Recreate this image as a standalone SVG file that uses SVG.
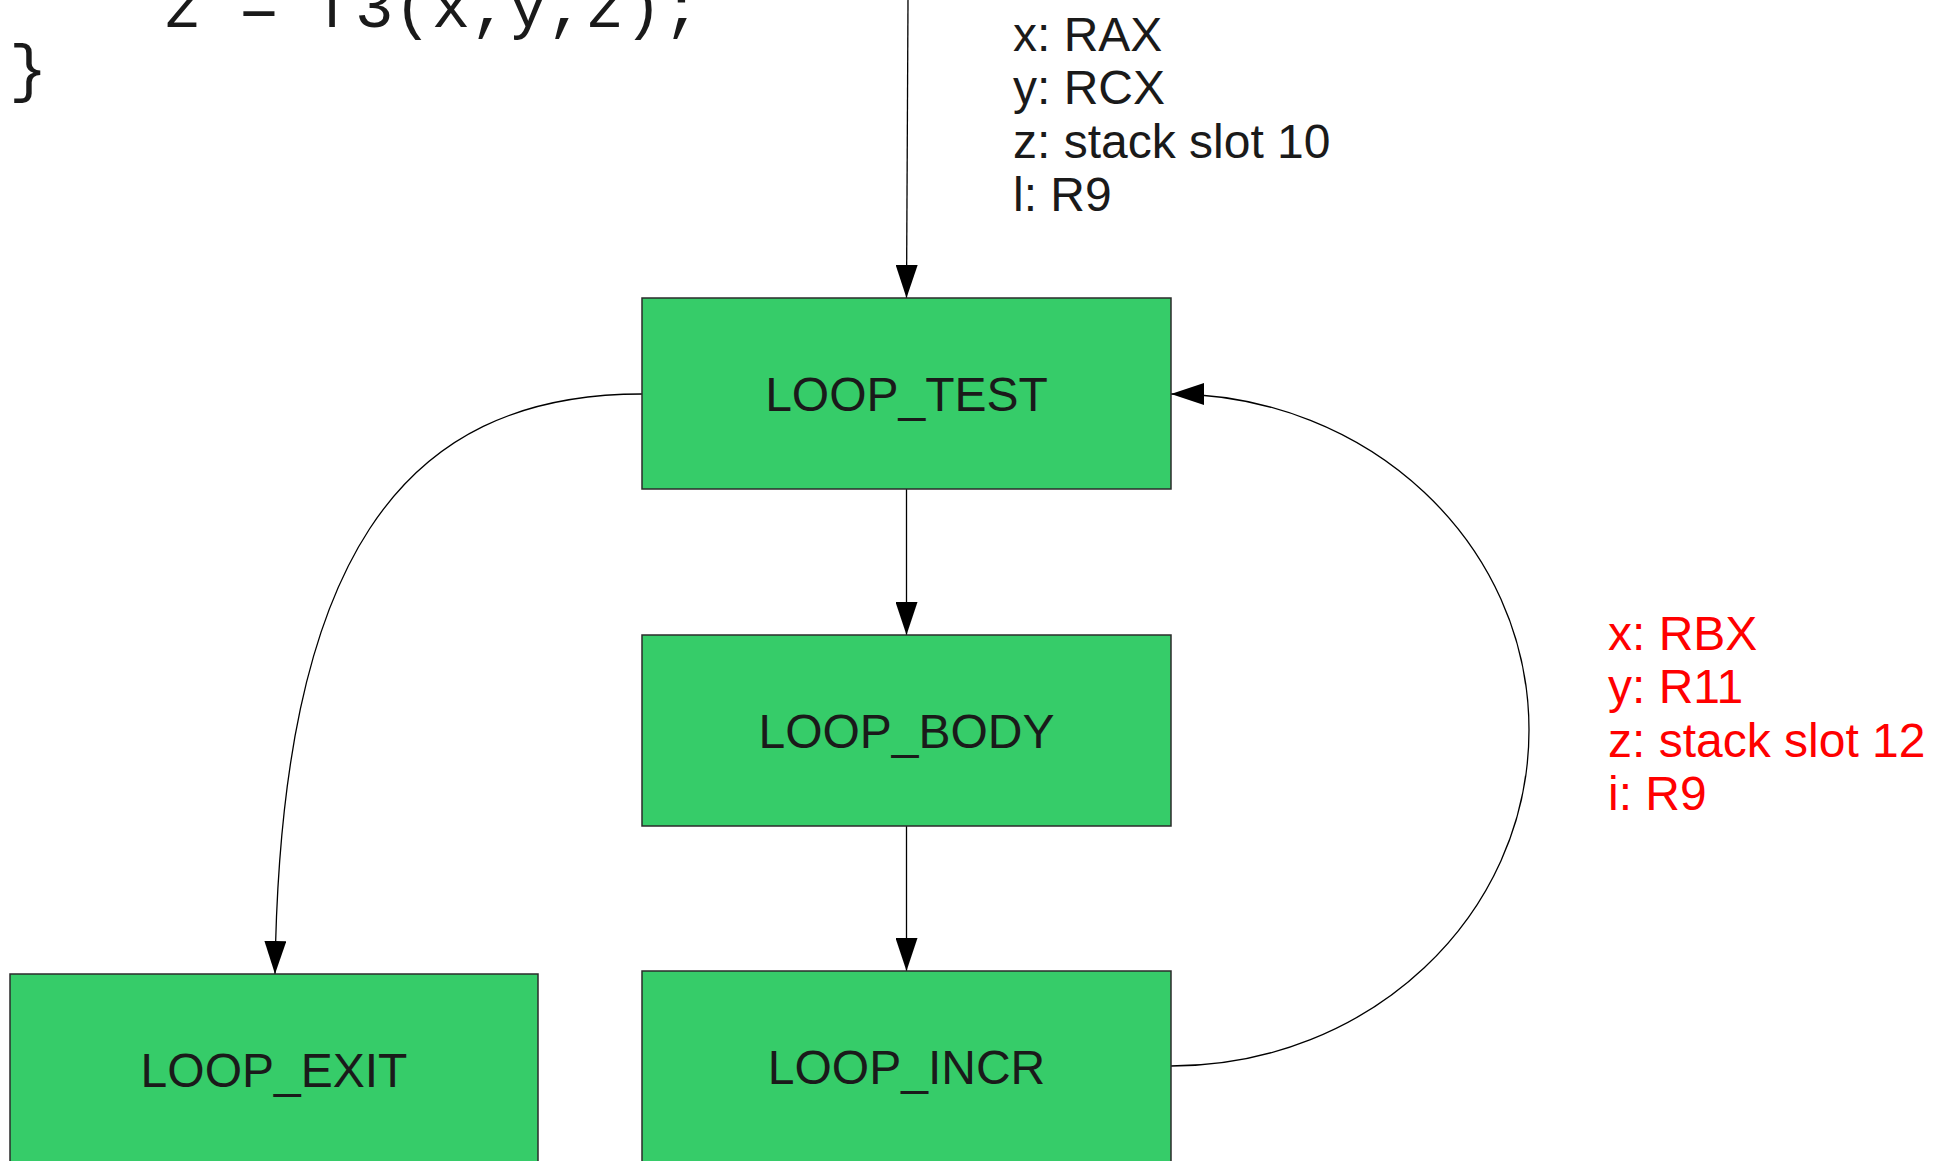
<svg xmlns="http://www.w3.org/2000/svg" width="1948" height="1161" viewBox="0 0 1948 1161">
  <style>
    .node rect { fill: #36cc69; stroke: #2b2b2b; stroke-width: 1.5; }
    .node text { font-family: "Liberation Sans", Arial, sans-serif; font-size: 48px; fill: #1a1a1a; text-anchor: middle; }
    .edge { fill: none; stroke: #000; stroke-width: 1.3; marker-end: url(#arrow); }
    .code { font-family: "Liberation Mono", "Courier New", monospace; font-size: 64px; fill: #1a1a1a; }
    .regs { font-family: "Liberation Sans", Arial, sans-serif; font-size: 48px; fill: #1a1a1a; }
    .regs.out { fill: #ff0000; }
  </style>
  <defs>
    <marker id="arrow" viewBox="0 0 33 22" refX="33" refY="11" markerWidth="33" markerHeight="22" markerUnits="userSpaceOnUse" orient="auto">
      <path d="M0,0 L33,11 L0,22 z" fill="#000"/>
    </marker>
  </defs>

  <!-- source fragment -->
  <g id="source">
    <text class="code" x="163" y="26.5">z = f3(x,y,z);</text>
    <text class="code" x="9" y="90">}</text>
  </g>

  <!-- register assignments -->
  <g id="regs-entry" class="regs">
    <text class="regs" x="1013" y="51">x: RAX</text>
    <text class="regs" x="1013" y="104.3">y: RCX</text>
    <text class="regs" x="1013" y="157.7">z: stack slot 10</text>
    <text class="regs" x="1013" y="211">l: R9</text>
  </g>
  <g id="regs-backedge">
    <text class="regs out" x="1608" y="650">x: RBX</text>
    <text class="regs out" x="1608" y="703.3">y: R11</text>
    <text class="regs out" x="1608" y="756.7">z: stack slot 12</text>
    <text class="regs out" x="1608" y="810">i: R9</text>
  </g>

  <!-- connectors -->
  <g id="edges">
    <path class="edge" d="M908,0 L906.5,298"/>
    <path class="edge" d="M906.5,489 L906.5,635"/>
    <path class="edge" d="M906.5,826 L906.5,971"/>
    <path class="edge" d="M642,394 C400,394 280,560 275,974"/>
    <path class="edge" d="M1171,1066 C1369,1066 1529,916 1529,730 C1529,544 1369,394 1171,394"/>
  </g>

  <!-- blocks -->
  <g id="loop_test" class="node">
    <rect x="642" y="298" width="529" height="191"/>
    <text x="906.5" y="410.5">LOOP_TEST</text>
  </g>
  <g id="loop_body" class="node">
    <rect x="642" y="635" width="529" height="191"/>
    <text x="906.5" y="747.5">LOOP_BODY</text>
  </g>
  <g id="loop_incr" class="node">
    <rect x="642" y="971" width="529" height="191"/>
    <text x="906.5" y="1083.5">LOOP_INCR</text>
  </g>
  <g id="loop_exit" class="node">
    <rect x="10" y="974" width="528" height="191"/>
    <text x="274" y="1086.5">LOOP_EXIT</text>
  </g>
</svg>
